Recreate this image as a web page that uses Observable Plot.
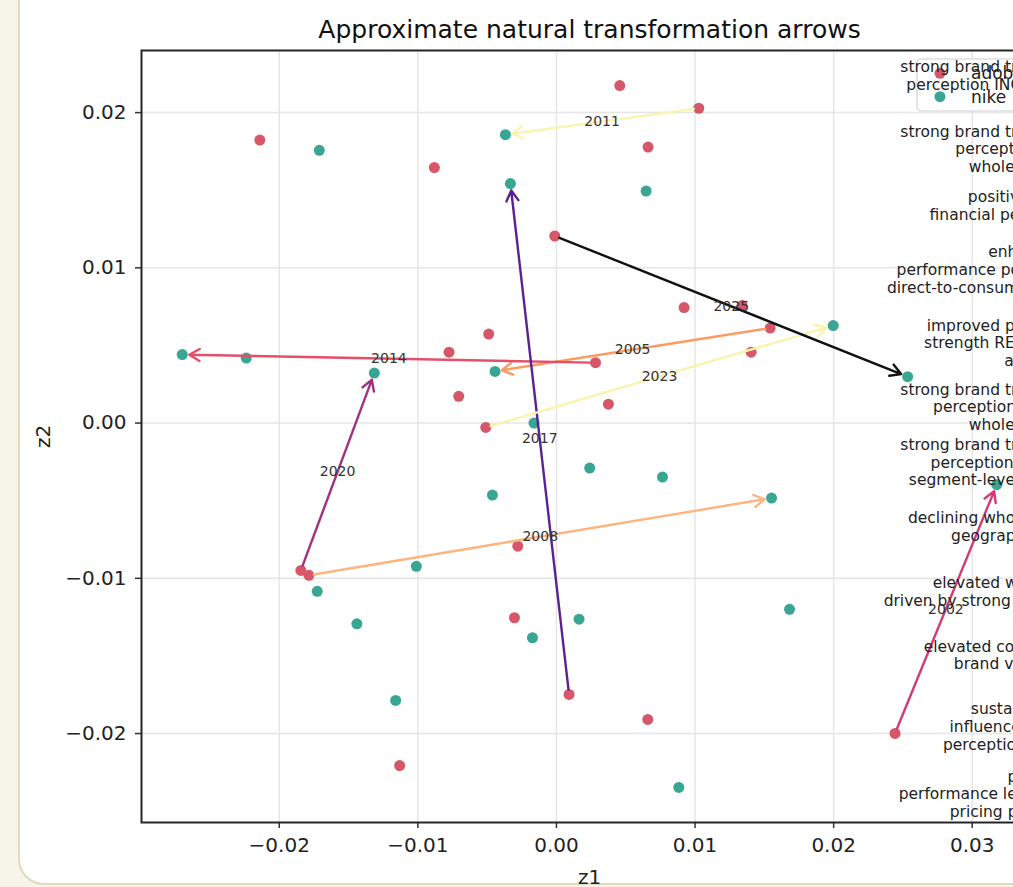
<!DOCTYPE html>
<html><head><meta charset="utf-8">
<script src="https://cdn.jsdelivr.net/npm/d3@7"></script>
<script src="https://cdn.jsdelivr.net/npm/@observablehq/plot@0.6"></script>
<style>
html,body{margin:0;padding:0;width:1013px;height:887px;overflow:hidden;background:#f7f4ea;}
#frame{position:absolute;left:18px;top:-40px;width:1200px;height:925px;border:2px solid #e3d9bd;border-radius:26px;background:#fff;box-sizing:border-box;}
#chart{position:absolute;left:0;top:0;width:1100px;height:887px;}
#chart svg{max-width:none !important;width:1100px !important;height:887px !important;}
</style></head><body>
<div id="frame"></div>
<div id="chart"></div>
<script>
// ---- data ----
const years = [2002,2003,2004,2005,2006,2007,2008,2009,2010,2011,2012,2013,2014,2015,2016,2017,2018,2019,2020,2021,2022,2023,2024,2025];
const adobeZ1 = [0.02443,-0.02140,0.00457,0.01542,0.00661,-0.00881,-0.01786,0.00921,0.01340,0.01027,-0.00489,-0.00775,0.00282,0.01405,-0.00705,0.00091,0.00375,-0.00279,-0.01844,-0.00303,0.00659,-0.00510,-0.01131,-0.00012];
const adobeZ2 = [-0.01999,0.01823,0.02174,0.00612,0.01778,0.01646,-0.00981,0.00744,0.00758,0.02028,0.00573,0.00457,0.00389,0.00457,0.00172,-0.01748,0.00122,-0.00793,-0.00949,-0.01254,-0.01909,-0.00028,-0.02206,0.01205];
const nikeZ1 = [0.03177,-0.01711,0.00647,-0.00443,-0.02238,-0.00162,0.01552,0.00240,-0.00462,-0.00368,0.00765,-0.01011,-0.02700,-0.01726,-0.01440,-0.00332,0.00163,-0.00173,-0.01314,0.01682,-0.01160,0.01997,0.00883,0.02534];
const nikeZ2 = [-0.00397,0.01757,0.01495,0.00333,0.00419,0.00000,-0.00483,-0.00290,-0.00464,0.01858,-0.00348,-0.00923,0.00441,-0.01084,-0.01293,0.01543,-0.01263,-0.01383,0.00322,-0.01200,-0.01787,0.00628,-0.02347,0.00299];
const arrowYears = [2002,2005,2008,2011,2014,2017,2020,2023,2025];
const arrowColors = ["#d23b77","#fc9a62","#feb47e","#f9f4b0","#e54f68","#5b2192","#a3307e","#f8f3ad","#111111"];
const seriesNames = ["adobe","nike"];
const xTicks = [-0.02,-0.01,0.00,0.01,0.02,0.03];
const yTicks = [-0.02,-0.01,0.00,0.01,0.02];
const noteTexts = [
  "strong brand trust and loyalty among\nperception INCREASES sales growth",
  "strong brand trust and loyalty among\nperception strengthens\nwholesale revenues",
  "positive momentum\nfinancial performance outlook",
  "enhanced core\nperformance positioning and premium\ndirect-to-consumer sales channel growth",
  "improved pricing power driven\nstrength REINFORCES premium\nawareness",
  "strong brand trust and loyalty among\nperception strengthens retail\nwholesale revenues",
  "strong brand trust and loyalty among\nperception supports premium\nsegment-level revenue momentum",
  "declining wholesale revenue across\ngeographic markets and",
  "elevated wholesale revenues\ndriven by strong brand perception among",
  "elevated consumer demand for\nbrand value and loyalty",
  "sustained premium\ninfluence over consumer\nperception across markets",
  "perceived\nperformance leadership and premium\npricing power over rivals"
];
const noteZ2 = [0.02240,0.01768,0.01403,0.00990,0.00518,0.00106,-0.00251,-0.00666,-0.01084,-0.01492,-0.01954,-0.02388];
const noteZ1 = 0.0353;
const titleText = "Approximate natural transformation arrows";

// ---- derived tables ----
const adobe = years.map((y,i)=>({year:y, z1:adobeZ1[i], z2:adobeZ2[i]}));
const nike = years.map((y,i)=>({year:y, z1:nikeZ1[i], z2:nikeZ2[i]}));
const arrows = arrowYears.map(y=>{const i=years.indexOf(y);return {year:y,x1:adobeZ1[i],y1:adobeZ2[i],x2:nikeZ1[i],y2:nikeZ2[i]};});
const notes = noteTexts.map((t,i)=>({text:t, z1:noteZ1, z2:noteZ2[i]}));
function pad(e){const r=e[1]-e[0];return [e[0]-0.05*r,e[1]+0.05*r];}
const fmt = d => (d<0?"\u2212":"")+Math.abs(d).toFixed(2);

const RED="#d6566a", TEAL="#38a692";
const W=1100,H=887,mL=141,mT=50,mR=W-1037,mB=H-822;

function legendMark(index, scales, values, dims){
  const g=d3.create("svg:g");
  const bw=112,bh=52;
  const bx=dims.width-dims.marginRight-8-bw, by=dims.marginTop+9;
  g.append("rect").attr("x",bx).attr("y",by).attr("width",bw).attr("height",bh).attr("rx",4)
   .attr("fill","#fff").attr("fill-opacity",0.8).attr("stroke","#d0d0d0").attr("stroke-width",1.2);
  const cols=[RED,TEAL];
  seriesNames.forEach((n,i)=>{
    const cy=by+14.3+i*23.4;
    g.append("circle").attr("cx",bx+23).attr("cy",cy).attr("r",5.5).attr("fill",cols[i]);
    g.append("text").attr("x",bx+54).attr("y",cy).attr("dy","0.35em").attr("text-anchor","start")
     .attr("font-size",17).attr("fill","#222").text(n);
  });
  return g.node();
}

const plot = Plot.plot({
  width:W,height:H,marginLeft:mL,marginRight:mR,marginTop:mT,marginBottom:mB,
  style:{fontFamily:"DejaVu Sans",background:"transparent",overflow:"visible",color:"#222",maxWidth:"none"},
  x:{domain:pad(d3.extent(adobeZ1.concat(nikeZ1)))},
  y:{domain:pad(d3.extent(adobeZ2.concat(nikeZ2)))},
  color:{type:"ordinal",domain:arrowYears,range:arrowColors},
  marks:[
    Plot.gridX(xTicks,{stroke:"#e6e6e6",strokeOpacity:1,strokeWidth:1.5}),
    Plot.gridY(yTicks,{stroke:"#e6e6e6",strokeOpacity:1,strokeWidth:1.5}),
    Plot.axisX(xTicks,{tickFormat:fmt,tickSize:6,tickPadding:9,fontSize:20,stroke:"#333",strokeWidth:1.5,label:"z1",labelAnchor:"center",labelOffset:61,labelArrow:"none"}),
    Plot.axisY(yTicks,{tickFormat:fmt,tickSize:6,tickPadding:9,fontSize:20,stroke:"#333",strokeWidth:1.5,label:"z2",labelAnchor:"center",labelOffset:106,labelArrow:"none"}),
    Plot.dot(adobe,{x:"z1",y:"z2",r:5.5,fill:RED}),
    Plot.dot(nike,{x:"z1",y:"z2",r:5.5,fill:TEAL}),
    Plot.arrow(arrows,{x1:"x1",y1:"y1",x2:"x2",y2:"y2",stroke:"year",strokeWidth:2.4,headLength:7.5,insetStart:5,insetEnd:7}),
    Plot.text(arrows,{x:d=>(d.x1+d.x2)/2,y:d=>(d.y1+d.y2)/2,text:d=>String(d.year),fontSize:14,fill:"#333",textAnchor:"middle",lineAnchor:"middle"}),
    legendMark,
    Plot.text(notes,{x:"z1",y:"z2",text:"text",fontSize:15.5,lineHeight:1.14,fill:"#222",textAnchor:"middle",lineAnchor:"middle"}),
    Plot.frame({stroke:"#262626",strokeWidth:2}),
    Plot.text([titleText],{frameAnchor:"top",dy:-21,fontSize:25,fill:"#111",lineAnchor:"middle",text:d=>d})
  ]
});
document.getElementById("chart").appendChild(plot);
</script></body></html>
